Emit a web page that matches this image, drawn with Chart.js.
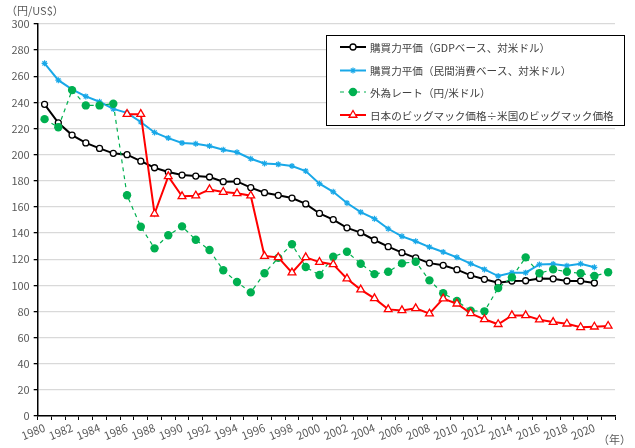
<!DOCTYPE html>
<html lang="ja">
<head>
<meta charset="UTF-8">
<title>購買力平価と為替レート</title>
<script src="https://cdn.jsdelivr.net/npm/chart.js@4"></script>
<style>
  html, body { margin: 0; padding: 0; background: #fff; }
  canvas { display: block; }
</style>
</head>
<body>
<canvas id="chart" width="635" height="448"></canvas>
<script>
// 1980-2021
const years = []
for (let y = 1980; y <= 2021; y++) years.push(String(y))

const seriesNames = [
  '購買力平価（GDPベース、対米ドル）',
  '購買力平価（民間消費ベース、対米ドル）',
  '外為レート（円/米ドル）',
  '日本のビッグマック価格÷米国のビッグマック価格'
]

const pppGdp = [
  238.5, 224.4, 215, 209, 204.8, 201, 200, 195, 190, 186.7,
  184.4, 183.6, 182.9, 179.3, 179.5, 174.8, 170.9, 168.9, 166.8, 162.3,
  155, 150.3, 144, 140.3, 134.7, 129.6, 125, 121, 117, 115.3,
  112, 107.6, 104.6, 102, 103.3, 103.5, 105.3, 105, 103.3, 103.3,
  101.8, null
]

const pppConsumption = [
  269.9, 257, 250, 244.6, 240.5, 235, 232, 225, 217, 212.7,
  209, 208.3, 206.6, 203.8, 201.8, 196.9, 193.3, 192.6, 191.3, 187.5,
  177.8, 171.6, 163, 156, 151, 143.3, 137.5, 133.7, 129.3, 125.5,
  121.4, 116.6, 112.2, 107.1, 109.7, 109.7, 116, 116.3, 115, 116.5,
  113.8, null
]

const fxRate = [
  227.2, 221, 249.4, 237.7, 237.7, 239, 168.9, 144.8, 128.3, 138.3,
  145.1, 134.9, 127, 111.5, 102.5, 94.6, 109.2, 121, 131.4, 114,
  107.9, 121.9, 125.7, 116.5, 108.6, 110.4, 116.8, 118.1, 103.8, 93.9,
  88, 80.6, 80.1, 97.9, 106.1, 121.4, 109.2, 112.2, 110.4, 109.2,
  107.1, 110
]

const bigMac = [
  null, null, null, null, null, null, 231, 231, 154.8, 183.4,
  168.1, 168.6, 173.4, 171.4, 170.4, 168.6, 122.4, 121.4, 109.7, 121.4,
  117.8, 116, 105.1, 96.7, 90, 81.6, 80.8, 82.4, 78.3, 89.8,
  85.9, 78.6, 74, 70.2, 77, 77, 73.7, 71.9, 70.6, 67.9,
  68.3, 68.9
]

const labelFont = "'Noto Sans CJK JP', 'Noto Sans', sans-serif"
const textGray = '#595959'

// legend box and the two axis captions
const extras = {
  id: 'extras',
  afterDraw(chart) {
    const ctx = chart.ctx
    ctx.save()
    ctx.fillStyle = textGray
    ctx.font = '11px ' + labelFont
    ctx.textBaseline = 'middle'
    ctx.textAlign = 'left'
    ctx.fillText('（円/US$）', 6, 11)
    ctx.fillText('（年）', 598, 440)

    // legend
    const bx = 326, by = 35, bw = 298, bh = 90
    ctx.fillStyle = '#fff'
    ctx.fillRect(bx, by, bw, bh)
    ctx.strokeStyle = '#000'
    ctx.lineWidth = 1
    ctx.setLineDash([])
    ctx.strokeRect(bx + 0.5, by + 0.5, bw, bh)

    const rows = [47, 70.5, 92, 115]
    chart.data.datasets.forEach((ds, i) => {
      const y = rows[i]
      ctx.strokeStyle = ds.borderColor
      ctx.lineWidth = ds.borderWidth
      ctx.setLineDash(ds.borderDash || [])
      ctx.beginPath()
      ctx.moveTo(340, y)
      ctx.lineTo(366, y)
      ctx.stroke()
      ctx.setLineDash([])
      ctx.fillStyle = ds.pointBackgroundColor
      ctx.strokeStyle = ds.pointBorderColor
      ctx.lineWidth = ds.pointBorderWidth
      Chart.helpers.drawPoint(ctx, {
        pointStyle: ds.pointStyle,
        radius: ds.pointRadius,
        borderWidth: ds.pointBorderWidth
      }, 353, y)
      ctx.fillStyle = '#404040'
      ctx.font = '10.6px ' + labelFont
      ctx.fillText(ds.label, 370, y + 0.5)
    })
    ctx.restore()
  }
}

new Chart(document.getElementById('chart'), {
  type: 'line',
  data: {
    labels: years,
    datasets: [
      {
        label: seriesNames[0],
        data: pppGdp,
        borderColor: '#000000',
        borderWidth: 2,
        pointStyle: 'circle',
        pointRadius: 3,
        pointBackgroundColor: '#ffffff',
        pointBorderColor: '#000000',
        pointBorderWidth: 1.3,
        order: 4
      },
      {
        label: seriesNames[1],
        data: pppConsumption,
        borderColor: '#19A8E8',
        borderWidth: 2,
        pointStyle: 'star',
        pointRadius: 3,
        pointBackgroundColor: '#19A8E8',
        pointBorderColor: '#19A8E8',
        pointBorderWidth: 1.2,
        order: 3
      },
      {
        label: seriesNames[2],
        data: fxRate,
        borderColor: '#00B050',
        borderWidth: 1.2,
        borderDash: [4, 4],
        pointStyle: 'circle',
        pointRadius: 4.2,
        pointBackgroundColor: '#00B050',
        pointBorderColor: '#00B050',
        pointBorderWidth: 0,
        order: 2
      },
      {
        label: seriesNames[3],
        data: bigMac,
        borderColor: '#FF0000',
        borderWidth: 2,
        pointStyle: 'triangle',
        pointRadius: 4.5,
        pointBackgroundColor: '#ffffff',
        pointBorderColor: '#FF0000',
        pointBorderWidth: 1.3,
        order: 1
      }
    ]
  },
  options: {
    responsive: false,
    animation: false,
    layout: { padding: { top: 24, right: 20, left: 0, bottom: 0 } },
    plugins: {
      legend: { display: false },
      tooltip: { enabled: false }
    },
    scales: {
      x: {
        offset: true,
        afterFit: (s) => { s.height = 32 },
        grid: {
          offset: true,
          drawOnChartArea: false,
          drawTicks: true,
          tickLength: 4,
          tickColor: '#000'
        },
        border: { color: '#000', width: 1.5 },
        ticks: {
          autoSkip: false,
          minRotation: 22,
          maxRotation: 22,
          padding: 1,
          color: textGray,
          font: { family: labelFont, size: 11 },
          callback: (v, i) => (i % 2 === 0 ? years[i] : '')
        }
      },
      y: {
        min: 0,
        max: 300,
        afterFit: (s) => { s.width = 37.7 },
        grid: {
          color: '#d9d9d9',
          lineWidth: 1.3,
          tickColor: '#000',
          tickLength: 4
        },
        border: { color: '#000', width: 1.5 },
        ticks: {
          stepSize: 20,
          padding: 4,
          color: textGray,
          font: { family: labelFont, size: 11 }
        }
      }
    }
  },
  plugins: [extras]
})
</script>
</body>
</html>
